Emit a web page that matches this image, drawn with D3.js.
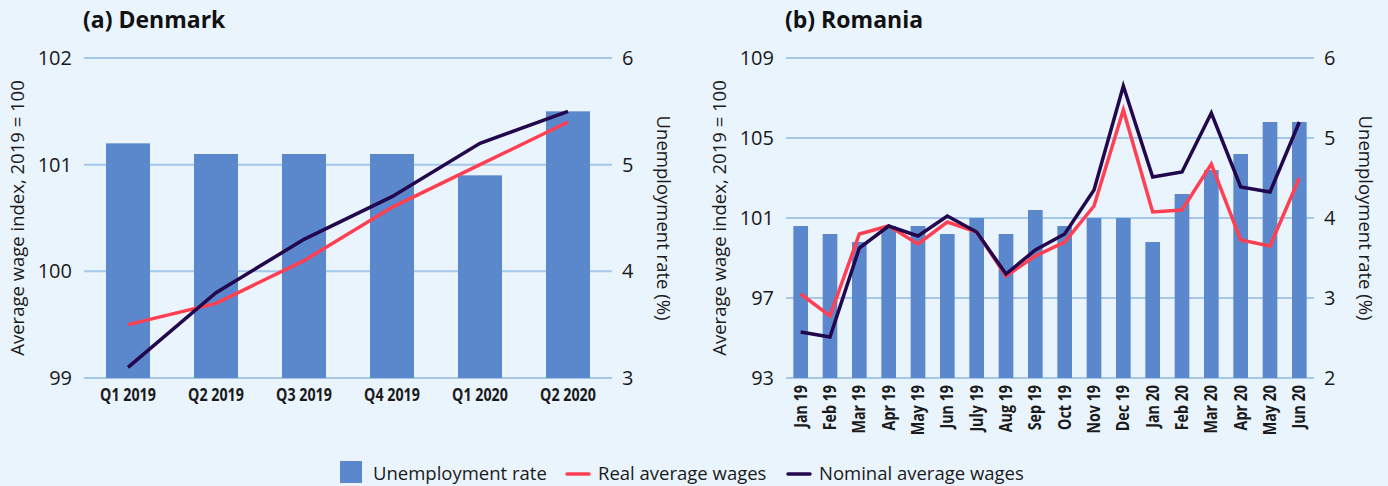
<!DOCTYPE html>
<html>
<head>
<meta charset="utf-8">
<script src="https://cdn.jsdelivr.net/npm/d3@7"></script>
<style>
  html, body { margin: 0; padding: 0; background: #eaf4fd; }
  svg { display: block; font-family: "Open Sans", sans-serif; }
</style>
</head>
<body>
<svg id="chart" width="1388" height="486"></svg>
<script>
// Denmark, quarterly
const dkQuarters = ["Q1 2019", "Q2 2019", "Q3 2019", "Q4 2019", "Q1 2020", "Q2 2020"];
const dkUnemployment = [5.2, 5.1, 5.1, 5.1, 4.9, 5.5];
const dkReal = [99.5, 99.7, 100.1, 100.6, 101.0, 101.4];
const dkNominal = [99.1, 99.8, 100.3, 100.7, 101.2, 101.5];
const dkLeftTicks = [99, 100, 101, 102];
const dkRightTicks = [3, 4, 5, 6];

// Romania, monthly
const roMonths = ["Jan 19", "Feb 19", "Mar 19", "Apr 19", "May 19", "Jun 19", "July 19", "Aug 19", "Sep 19",
  "Oct 19", "Nov 19", "Dec 19", "Jan 20", "Feb 20", "Mar 20", "Apr 20", "May 20", "Jun 20"];
const roUnemployment = [3.9, 3.8, 3.7, 3.9, 3.9, 3.8, 4.0, 3.8, 4.1, 3.9, 4.0, 4.0, 3.7, 4.3, 4.6, 4.8, 5.2, 5.2];
const roReal = [97.2, 96.1, 100.2, 100.6, 99.7, 100.8, 100.3, 98.1, 99.1, 99.8, 101.6, 106.4, 101.3, 101.4, 103.7, 99.9, 99.6, 103.0];
const roNominal = [95.3, 95.05, 99.5, 100.6, 100.1, 101.1, 100.3, 98.2, 99.4, 100.2, 102.4, 107.6, 103.05, 103.3, 106.25, 102.55, 102.3, 105.8];
const roLeftTicks = [93, 97, 101, 105, 109];
const roRightTicks = [2, 3, 4, 5, 6];

const barColor = "#5b87cd";
const realColor = "#ff4052";
const nominalColor = "#23074d";
const gridColor = "#a4c7ea";

const svg = d3.select("#chart");

function drawPanel(opts) {
    const { title, cats, unemp, real, nominal, leftTicks, rightTicks, x0, x1, rotateLabels } = opts;
    const top = 58, bottom = 378;
    const g = svg.append("g");

    const x = d3.scaleBand().domain(cats).range([x0, x1]).paddingInner(0.5).paddingOuter(0.25);
    const yL = d3.scaleLinear().domain(d3.extent(leftTicks)).range([bottom, top]);
    const yR = d3.scaleLinear().domain(d3.extent(rightTicks)).range([bottom, top]);

    // gridlines
    g.selectAll(".grid")
        .data(leftTicks)
        .enter()
        .append("line")
        .attr("x1", x0).attr("x2", x1)
        .attr("y1", d => yL(d)).attr("y2", d => yL(d))
        .attr("stroke", gridColor)
        .attr("stroke-width", 2);

    // bars on the right axis
    g.selectAll(".bar")
        .data(unemp)
        .enter()
        .append("rect")
        .attr("x", (d, i) => x(cats[i]))
        .attr("width", x.bandwidth())
        .attr("y", d => yR(d))
        .attr("height", d => bottom - yR(d))
        .attr("fill", barColor);

    // lines on the left axis
    const line = d3.line()
        .x((d, i) => x(cats[i]) + x.bandwidth() / 2)
        .y(d => yL(d));
    [[real, realColor], [nominal, nominalColor]].forEach(([vals, col]) => {
        g.append("path")
            .datum(vals)
            .attr("d", line)
            .attr("fill", "none")
            .attr("stroke", col)
            .attr("stroke-width", 3.5)
            .attr("stroke-linejoin", "miter");
    });

    // left axis
    const axL = g.append("g")
        .attr("transform", `translate(${x0},0)`)
        .call(d3.axisLeft(yL).tickValues(leftTicks).tickSize(0).tickPadding(12).tickFormat(d3.format("d")));
    axL.select(".domain").remove();
    axL.selectAll("text").attr("font-size", 20).attr("fill", "#1a1a1a").attr("font-family", "Open Sans");

    // right axis
    const axR = g.append("g")
        .attr("transform", `translate(${x1},0)`)
        .call(d3.axisRight(yR).tickValues(rightTicks).tickSize(0).tickPadding(10).tickFormat(d3.format("d")));
    axR.select(".domain").remove();
    axR.selectAll("text").attr("font-size", 20).attr("fill", "#1a1a1a").attr("font-family", "Open Sans");

    // category labels
    const labels = g.append("g");
    cats.forEach(c => {
        const cx = x(c) + x.bandwidth() / 2;
        if (rotateLabels) {
            labels.append("text")
                .attr("transform", `translate(${cx + 6},${bottom + 7}) rotate(-90) scale(0.84,1)`)
                .attr("text-anchor", "end")
                .attr("font-size", 17)
                .attr("font-weight", 700)
                .attr("fill", "#1a1a1a")
                .text(c);
        } else {
            labels.append("text")
                .attr("transform", `translate(${cx},${bottom + 23}) scale(0.84,1)`)
                .attr("text-anchor", "middle")
                .attr("font-size", 17)
                .attr("font-weight", 700)
                .attr("fill", "#1a1a1a")
                .text(c);
        }
    });

    // titles
    g.append("text")
        .attr("x", x0 - 1).attr("y", 28)
        .attr("font-size", 23).attr("font-weight", 700).attr("fill", "#111")
        .text(title);

    const midY = (top + bottom) / 2;
    g.append("text")
        .attr("transform", `translate(${x0 - 60},${midY}) rotate(-90)`)
        .attr("text-anchor", "middle")
        .attr("font-size", 18.5).attr("fill", "#1a1a1a")
        .text("Average wage index, 2019 = 100");
    g.append("text")
        .attr("transform", `translate(${x1 + 45},${midY}) rotate(90)`)
        .attr("text-anchor", "middle")
        .attr("font-size", 18.5).attr("fill", "#1a1a1a")
        .text("Unemployment rate (%)");
}

drawPanel({ title: "(a) Denmark", cats: dkQuarters, unemp: dkUnemployment, real: dkReal, nominal: dkNominal,
    leftTicks: dkLeftTicks, rightTicks: dkRightTicks, x0: 84, x1: 612, rotateLabels: false });
drawPanel({ title: "(b) Romania", cats: roMonths, unemp: roUnemployment, real: roReal, nominal: roNominal,
    leftTicks: roLeftTicks, rightTicks: roRightTicks, x0: 786, x1: 1314, rotateLabels: true });

// Legend
const legendItems = [
    { label: "Unemployment rate", type: "bar", color: barColor, x: 340 },
    { label: "Real average wages", type: "line", color: realColor, x: 566 },
    { label: "Nominal average wages", type: "line", color: nominalColor, x: 787 }
];
const legend = svg.append("g");
legendItems.forEach(d => {
    if (d.type === "bar") {
        legend.append("rect").attr("x", d.x).attr("y", 461).attr("width", 22).attr("height", 22).attr("fill", d.color);
    } else {
        legend.append("line").attr("x1", d.x + 1).attr("x2", d.x + 23).attr("y1", 474).attr("y2", 474)
            .attr("stroke", d.color).attr("stroke-width", 3.5).attr("stroke-linecap", "round");
    }
    legend.append("text")
        .attr("x", d.x + (d.type === "bar" ? 33 : 32)).attr("y", 480)
        .attr("font-size", 18.5).attr("fill", "#1a1a1a")
        .text(d.label);
});
</script>
</body>
</html>
